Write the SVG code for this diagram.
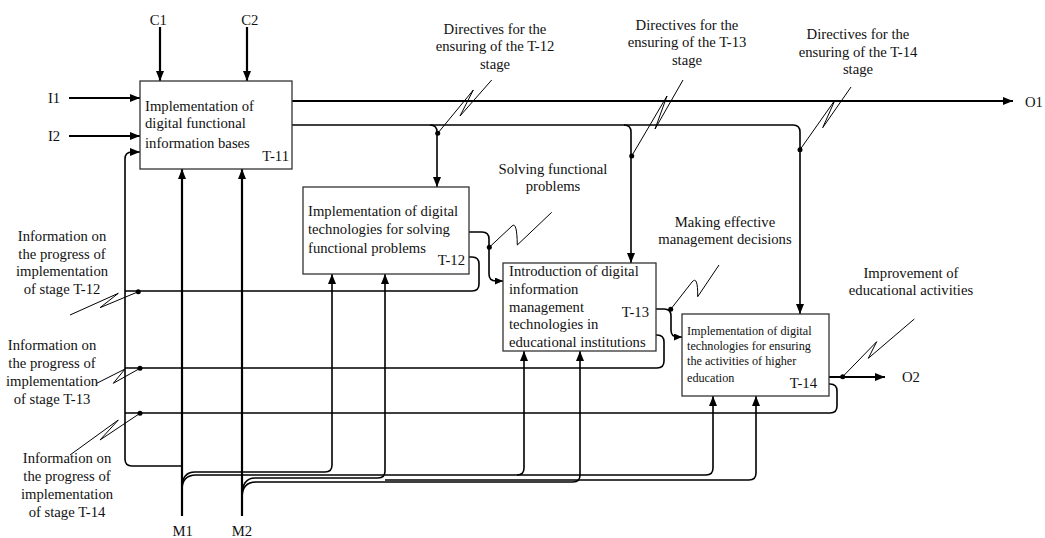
<svg xmlns="http://www.w3.org/2000/svg" width="1045" height="538" viewBox="0 0 1045 538">
<style>
text{font-family:"Liberation Serif","Times New Roman",serif;font-size:14.7px;fill:#111}
.c{text-anchor:middle}
.r{text-anchor:end}
.sm{font-size:12.2px}
.box{fill:#fff;stroke:#333;stroke-width:1.3}
.thick{fill:none;stroke:#000;stroke-width:2.2}
.ln{fill:none;stroke:#000;stroke-width:1.6}
.sq{fill:none;stroke:#000;stroke-width:1}
.dot{fill:#000}
</style>
<defs>
<marker id="ah" viewBox="0 0 10 8" refX="10" refY="4" markerWidth="10" markerHeight="8" markerUnits="userSpaceOnUse" orient="auto"><path d="M0,0 L10,4 L0,8 z" fill="#000"/></marker>
<marker id="as" viewBox="0 0 8 7" refX="8" refY="3.5" markerWidth="8" markerHeight="7" markerUnits="userSpaceOnUse" orient="auto"><path d="M0,0 L8,3.5 L0,7 z" fill="#000"/></marker>
</defs>

<g id="connectors">
<!-- controls and inputs -->
<path class="thick" d="M160,27 V81" marker-end="url(#ah)"/>
<path class="thick" d="M247,27 V81" marker-end="url(#ah)"/>
<path class="thick" d="M69,98 H140" marker-end="url(#ah)"/>
<path class="thick" d="M69,136 H140" marker-end="url(#ah)"/>
<!-- O1 -->
<path class="thick" d="M292,101 H1013" marker-end="url(#ah)"/>
<!-- directives bus -->
<path class="ln" d="M292,125 H793 Q800,125 800,132 V314" marker-end="url(#ah)"/>
<path class="ln" d="M430,125 Q437,125 437,132 V187" marker-end="url(#ah)"/>
<path class="ln" d="M624,125 Q631,125 631,132 V263" marker-end="url(#ah)"/>
<!-- feedback to T-11 -->
<path class="ln" d="M182,466 H132 Q125,466 125,459 V159 Q125,152 132,152 H140" marker-end="url(#ah)"/>
<!-- T-12 feedback -->
<path class="ln" d="M469,257 H472 Q479,257 479,264 V284 Q479,291 472,291 H125"/>
<!-- T-12 output -->
<path class="ln" d="M469,232 H482 Q489,232 489,239 V274 Q489,281 496,281 H503" marker-end="url(#as)"/>
<!-- T-13 output -->
<path class="ln" d="M656,309 H664 Q671,309 671,316 V330 Q671,337 678,337 H682" marker-end="url(#as)"/>
<!-- T-13 feedback -->
<path class="ln" d="M656,335 H657 Q664,335 664,342 V361 Q664,368 657,368 H125"/>
<!-- T-14 output O2 -->
<path class="thick" d="M829,377 H885" marker-end="url(#ah)"/>
<!-- T-14 feedback -->
<path class="ln" d="M829,384 H830 Q837,384 837,391 V406 Q837,413 830,413 H125"/>
<!-- mechanisms -->
<path class="thick" d="M182,516 V169" marker-end="url(#ah)"/>
<path class="thick" d="M242,516 V169" marker-end="url(#ah)"/>
<path class="ln" d="M182,488 Q182,472 195,472 H325 Q332,472 332,465 V274" marker-end="url(#ah)"/>
<path class="ln" d="M182,490 Q182,475 196,475 H517 Q524,475 524,468 V351" marker-end="url(#ah)"/>
<path class="ln" d="M517,475 H706 Q713,475 713,468 V396" marker-end="url(#ah)"/>
<path class="ln" d="M242,496 Q242,478 255,478 H378 Q385,478 385,471 V274" marker-end="url(#ah)"/>
<path class="ln" d="M242,498 Q242,482 256,482 H573 Q580,482 580,475 V351" marker-end="url(#ah)"/>
<path class="ln" d="M385,480 H749 Q756,480 756,473 V396" marker-end="url(#ah)"/>
<!-- squiggles -->
<path class="sq" d="M437.7,133.3 L473.3,90 L460,116 L491.7,80"/>
<path class="sq" d="M631.7,156 L667,96 L655,129 L683,80"/>
<path class="sq" d="M800,149.7 L835,100 L822.7,127.7 L851,87"/>
<path class="sq" d="M489.3,247.3 L512,226 Q517,221 517.3,245 L551.7,212.3"/>
<path class="sq" d="M670.7,309.3 L692,282 Q698,275 697.7,296.7 L719,265"/>
<path class="sq" d="M842.7,376.7 L876.7,341.7 L868.3,358.3 L914.3,319"/>
<path class="sq" d="M70,315 L118.3,293.3 L100,307.7 L138.3,291.7"/>
<path class="sq" d="M96.7,383.3 L125,369 L113.3,383.3 L140,368.3"/>
<path class="sq" d="M70,455 L118.3,420 L100,440 L140,413.3"/>
<circle class="dot" cx="437.7" cy="133.3" r="2.5"/>
<circle class="dot" cx="631.7" cy="156" r="2.5"/>
<circle class="dot" cx="800" cy="149.7" r="2.5"/>
<circle class="dot" cx="489.3" cy="247.3" r="2.5"/>
<circle class="dot" cx="670.7" cy="309.3" r="2.5"/>
<circle class="dot" cx="842.7" cy="376.7" r="2.5"/>
<circle class="dot" cx="138.3" cy="291.7" r="2.5"/>
<circle class="dot" cx="140" cy="368.3" r="2.5"/>
<circle class="dot" cx="140" cy="413.3" r="2.5"/>
</g>

<g id="T-11">
<rect class="box" x="140" y="81" width="152" height="88"/>
<text x="145" y="111">Implementation of</text>
<text x="145" y="128">digital functional</text>
<text x="145" y="148">information bases</text>
<text class="r" x="289" y="161">T-11</text>
</g>

<g id="T-12">
<rect class="box" x="303" y="187" width="166" height="87"/>
<text x="308" y="216">Implementation of digital</text>
<text x="308" y="233.5">technologies for solving</text>
<text x="308" y="253">functional problems</text>
<text class="r" x="465" y="265">T-12</text>
</g>

<g id="T-13">
<rect class="box" x="503" y="263" width="153" height="88"/>
<text x="509" y="276">Introduction of digital</text>
<text x="509" y="294">information</text>
<text x="509" y="312">management</text>
<text x="509" y="329">technologies in</text>
<text x="509" y="347">educational institutions</text>
<text class="r" x="649" y="317">T-13</text>
</g>

<g id="T-14">
<rect class="box" x="682" y="314" width="147" height="82"/>
<text class="sm" x="687" y="335">Implementation of digital</text>
<text class="sm" x="687" y="350">technologies for ensuring</text>
<text class="sm" x="687" y="365">the activities of higher</text>
<text class="sm" x="687" y="381.5">education</text>
<text class="r" x="817" y="388">T-14</text>
</g>

<g id="labels">
<text class="c" x="158.3" y="24.5">C1</text>
<text class="c" x="249.7" y="24.5">C2</text>
<text class="c" x="54" y="103">I1</text>
<text class="c" x="54" y="141">I2</text>
<text x="1025" y="107">O1</text>
<text x="902" y="382">O2</text>
<text class="c" x="182.7" y="536">M1</text>
<text class="c" x="242" y="536">M2</text>

<text class="c" x="495" y="33.5">Directives for the</text>
<text class="c" x="495" y="51">ensuring of the T-12</text>
<text class="c" x="495" y="68.5">stage</text>

<text class="c" x="687" y="29.5">Directives for the</text>
<text class="c" x="687" y="47">ensuring of the T-13</text>
<text class="c" x="687" y="64.5">stage</text>

<text class="c" x="858" y="39">Directives for the</text>
<text class="c" x="858" y="56.5">ensuring of the T-14</text>
<text class="c" x="858" y="74">stage</text>

<text class="c" x="553" y="173.5">Solving functional</text>
<text class="c" x="553" y="191">problems</text>

<text class="c" x="725" y="227">Making effective</text>
<text class="c" x="725" y="244">management decisions</text>

<text class="c" x="911" y="278">Improvement of</text>
<text class="c" x="911" y="295">educational activities</text>

<text class="c" x="62" y="240.5">Information on</text>
<text class="c" x="62" y="258.5">the progress of</text>
<text class="c" x="62" y="276">implementation</text>
<text class="c" x="62" y="293.5">of stage T-12</text>

<text class="c" x="52" y="349.5">Information on</text>
<text class="c" x="52" y="367.5">the progress of</text>
<text class="c" x="52" y="386">implementation</text>
<text class="c" x="52" y="404">of stage T-13</text>

<text class="c" x="67" y="462.5">Information on</text>
<text class="c" x="67" y="480.5">the progress of</text>
<text class="c" x="67" y="498.5">implementation</text>
<text class="c" x="67" y="516.5">of stage T-14</text>
</g>
</svg>
